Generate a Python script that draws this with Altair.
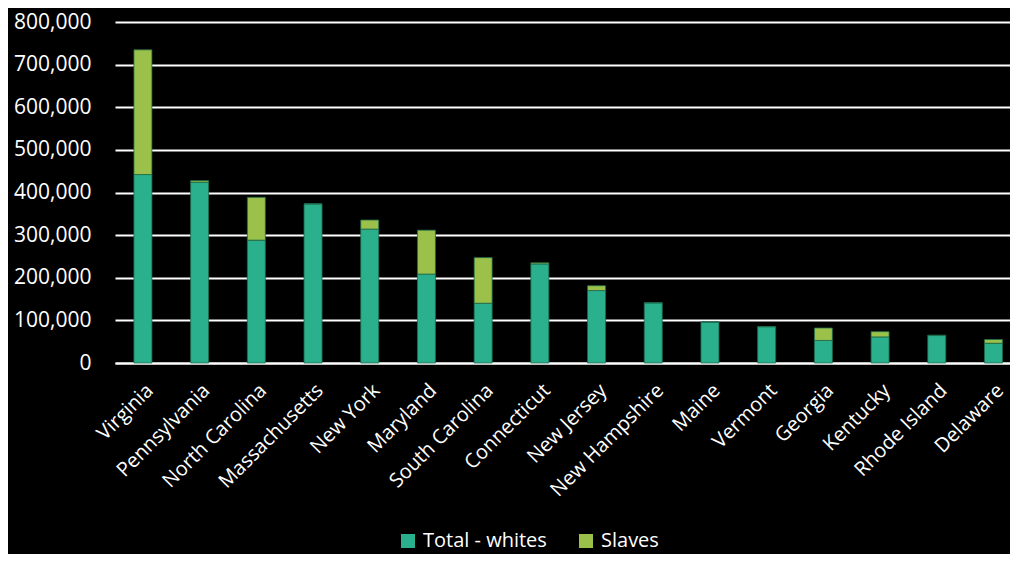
import altair as alt
import pandas as pd

states = ["Virginia", "Pennsylvania", "North Carolina", "Massachusetts", "New York",
          "Maryland", "South Carolina", "Connecticut", "New Jersey", "New Hampshire",
          "Maine", "Vermont", "Georgia", "Kentucky", "Rhode Island", "Delaware"]
whites = [442117, 424099, 288204, 373324, 314142, 208649, 140178, 232374, 169954,
          141097, 96002, 85268, 52886, 61133, 64470, 46310]
slaves = [292627, 3737, 100572, 0, 21324, 103036, 107094, 2764, 11423, 158, 0, 16,
          29264, 12430, 948, 8887]
series = ["Total - whites", "Slaves"]
colors = ["#2BB08D", "#9BC14A"]

rows = []
for s, w, sl in zip(states, whites, slaves):
    rows.append({"state": s, "series": series[0], "value": w, "ord": 0})
    rows.append({"state": s, "series": series[1], "value": sl, "ord": 1})
df = pd.DataFrame(rows)

font = "Open Sans"

chart = alt.Chart(df).mark_bar(width=18, stroke="#1d6a4c", strokeWidth=0.8).encode(
    x=alt.X("state:N", sort=states, title=None,
            scale=alt.Scale(paddingInner=0.68, paddingOuter=0.232, align=0.717),
            axis=alt.Axis(labelAngle=-45, labelAlign="right", labelBaseline="top",
                          labelFontSize=20, labelColor="white", labelFont=font,
                          labelOverlap=False, labelLimit=300,
                          ticks=False, domain=True, domainColor="white", domainWidth=2,
                          labelPadding=17)),
    y=alt.Y("value:Q", stack="zero", title=None,
            scale=alt.Scale(domain=[0, 800000], nice=False),
            axis=alt.Axis(format=",d", values=list(range(0, 800001, 100000)),
                          labelFontSize=21, labelColor="white", labelFont=font,
                          labelOverlap=False,
                          ticks=False, domain=False, gridColor="white", gridWidth=2,
                          labelPadding=24)),
    color=alt.Color("series:N", sort=series,
                    scale=alt.Scale(domain=series, range=colors),
                    legend=alt.Legend(title=None, orient="none", direction="horizontal",
                                      legendX=283, legendY=509, labelColor="white",
                                      labelFont=font, labelFontSize=20, symbolType="square",
                                      symbolSize=196, symbolStrokeWidth=0, columnPadding=29,
                                      labelOffset=5)),
    order=alt.Order("ord:Q"),
).properties(
    width=895, height=341,
    background="black",
    padding={"left": 107, "top": 14, "right": 0, "bottom": 191},
    autosize=alt.AutoSizeParams(type="none"),
).configure_view(stroke=None)

chart.save("out.html", embed_options={"renderer": "svg", "actions": False})
